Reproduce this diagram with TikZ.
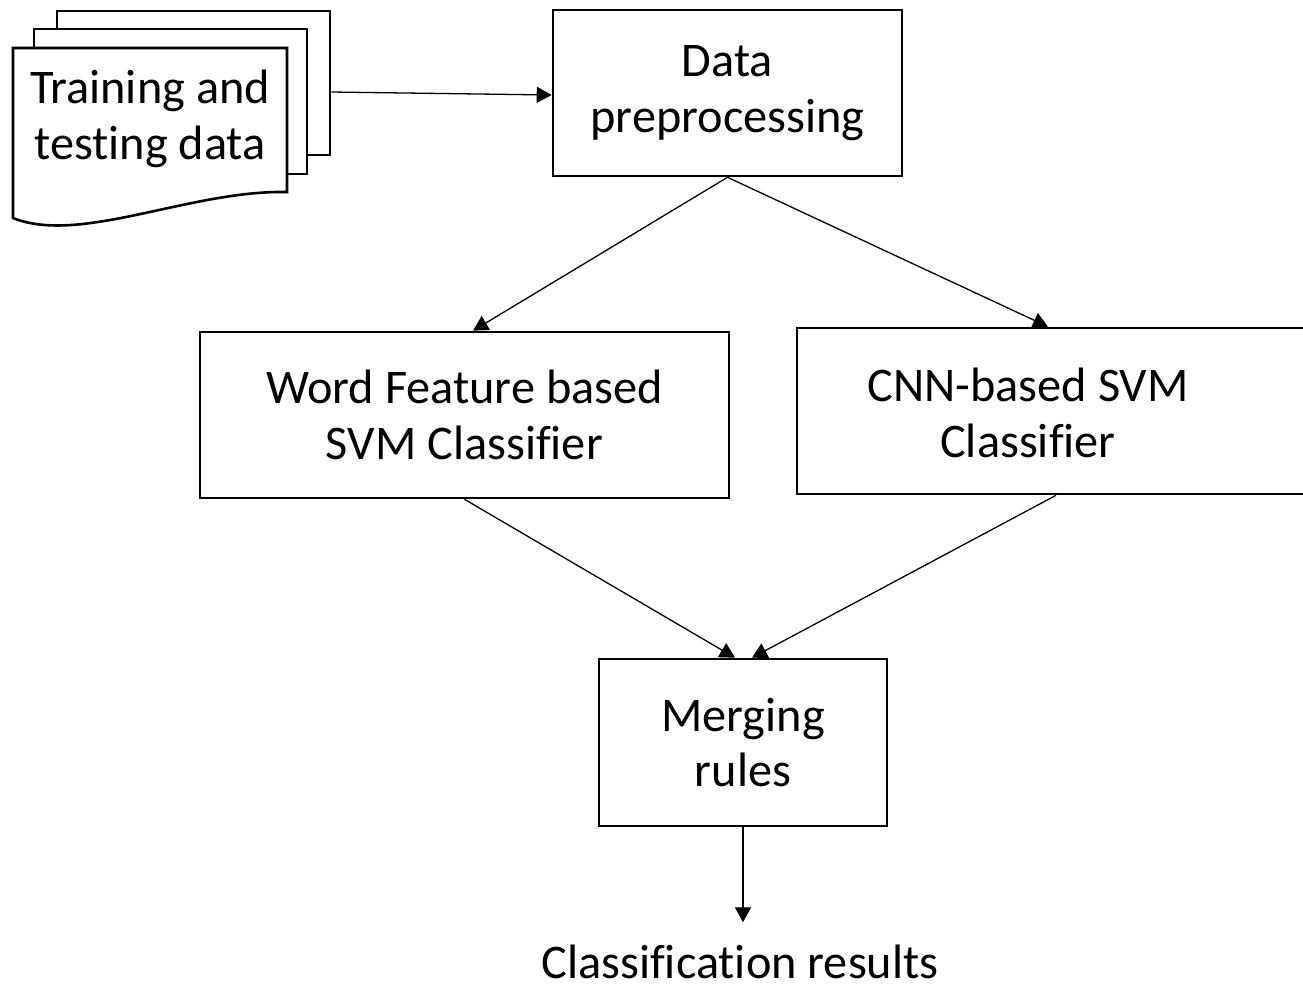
\documentclass[tikz,border=0pt]{standalone}
\usepackage{fontspec}
\setmainfont{Carlito}[Ligatures=CommonOff]
\usetikzlibrary{arrows.meta}
\begin{document}
\begin{tikzpicture}[x=1pt,y=-1pt,
  box/.style={draw, line width=2.6pt, fill=white, rectangle, inner sep=0pt, align=center},
  txt/.style={font=\fontsize{48.3}{55.5}\selectfont, align=center},
  page/.style={draw, line width=2.6pt, fill=white, line join=miter},
  conn/.style={line width=1.3pt, -{Triangle[length=15pt,width=16pt]}}]
\clip (0,0) rectangle (1303,994);
\fill[white] (0,0) rectangle (1303,994);

% stacked input documents
\node[box, minimum width=273pt, minimum height=144pt] (docback) at (193.5,83) {};
\node[box, minimum width=273pt, minimum height=145pt] (docmid) at (170.5,101.5) {};
\filldraw[page] (13,48) -- (287,48) -- (287,192)
  .. controls (190,190) and (80,245) .. (13,218) -- cycle;
\node[txt] (docs) at (150,119) {Training and\\testing data};

% processing boxes
\node[box, txt, minimum width=349pt, minimum height=166pt] (data) at (727.5,93) {Data\\preprocessing};
\node[box, txt, minimum width=529pt, minimum height=166pt] (word) at (464.5,415) {Word Feature based\\SVM Classifier};
\node[box, minimum width=518pt, minimum height=166pt] (cnn) at (1056,411) {};
\node[txt] (cnntext) at (1028,413) {CNN-based SVM\\Classifier};
\node[box, txt, minimum width=288pt, minimum height=167pt] (merge) at (743,742.5) {Merging\\rules};
\node[txt, anchor=base, inner sep=0pt] (res) at (740,978) {Classification results};

% connectors
\draw[conn] ([yshift=-9pt]docback.east) -- ([yshift=-2pt]data.west);
\draw[conn] (data.south) -- ([xshift=8.5pt]word.north);
\draw[conn] (data.south) -- ([xshift=-8pt]cnn.north);
\draw[conn] (word.south) -- ([xshift=-8pt]merge.north);
\draw[conn] (cnn.south) -- ([xshift=9pt]merge.north);
\draw[conn, shorten >=22pt] (merge.south) -- (merge.south |- res.north);
\end{tikzpicture}
\end{document}
